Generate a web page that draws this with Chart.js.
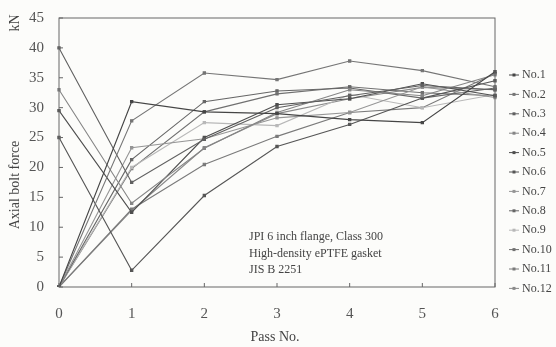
<!DOCTYPE html>
<html>
<head>
<meta charset="utf-8">
<script src="https://cdn.jsdelivr.net/npm/chart.js@4"></script>
<style>
  html, body { margin: 0; padding: 0; background: #fcfcfa; }
  #wrap { width: 556px; height: 347px; }
</style>
</head>
<body>
<div id="wrap"><canvas id="chart"></canvas></div>
<script>
const passes = ['0', '1', '2', '3', '4', '5', '6']
const yTicks = [0, 5, 10, 15, 20, 25, 30, 35, 40, 45]

const no1 = [0, 31, 29.3, 29, 28, 27.5, 36]
const no2 = [0, 27.8, 35.8, 34.7, 37.8, 36.2, 33.5]
const no3 = [40, 17.5, 24.7, 30, 32, 33.7, 33]
const no4 = [33, 14, 23.2, 29.2, 33, 32, 35.5]
const no5 = [29.5, 12.5, 25, 30.5, 31.5, 34, 32]
const no6 = [25, 2.8, 15.3, 23.5, 27.2, 31.6, 34.5]
const no7 = [0, 23.3, 24.8, 28.3, 29.2, 33.5, 31.7]
const no8 = [0, 21.3, 31, 32.8, 33.3, 31.6, 33.3]
const no9 = [0, 20, 27.5, 27, 32.2, 30, 32.2]
const no10 = [0, 19.8, 29.3, 32.3, 33.5, 32.5, 32]
const no11 = [0, 13, 20.5, 25.2, 29.2, 30, 35.7]
const no12 = [0, 12.8, 23.3, 29, 31.5, 33.4, 33]

const series = [no1, no2, no3, no4, no5, no6, no7, no8, no9, no10, no11, no12]
const shades = ['#454545', '#757575', '#606060', '#858585', '#4e4e4e', '#555555',
                '#959595', '#666666', '#b8b8b8', '#707070', '#7a7a7a', '#8a8a8a']

const serif = '"Liberation Serif", "DejaVu Serif", serif'

// legend, axis titles, note, frame and inner ticks
const decor = {
  id: 'decor',
  afterDraw(chart) {
    const { ctx, chartArea, scales } = chart
    ctx.save()
    ctx.strokeStyle = '#666'
    ctx.lineWidth = 1
    ctx.strokeRect(chartArea.left, chartArea.top, chartArea.right - chartArea.left, chartArea.bottom - chartArea.top)

    // small inner ticks
    ctx.beginPath()
    passes.forEach((p, i) => {
      const x = scales.x.getPixelForValue(i)
      ctx.moveTo(x, chartArea.bottom)
      ctx.lineTo(x, chartArea.bottom - 4)
    })
    yTicks.forEach(v => {
      const y = scales.y.getPixelForValue(v)
      ctx.moveTo(chartArea.left, y)
      ctx.lineTo(chartArea.left + 4, y)
    })
    ctx.stroke()

    ctx.fillStyle = '#444'
    ctx.font = '14px ' + serif
    ctx.textAlign = 'center'
    ctx.textBaseline = 'middle'
    ctx.fillText('Pass No.', 275, 337)

    ctx.save()
    ctx.translate(15, 185)
    ctx.rotate(-Math.PI / 2)
    ctx.fillText('Axial bolt force', 0, 0)
    ctx.restore()
    ctx.save()
    ctx.translate(15, 23)
    ctx.rotate(-Math.PI / 2)
    ctx.fillText('kN', 0, 0)
    ctx.restore()

    ctx.font = '12px ' + serif
    ctx.textAlign = 'left'
    ctx.fillText('JPI 6 inch flange, Class 300', 249, 237)
    ctx.fillText('High-density ePTFE gasket', 249, 254)
    ctx.fillText('JIS B 2251', 249, 270)

    // legend
    chart.data.datasets.forEach((ds, i) => {
      const y = 75 + i * 19.4
      ctx.strokeStyle = ds.borderColor
      ctx.fillStyle = ds.borderColor
      ctx.beginPath()
      ctx.moveTo(509, y)
      ctx.lineTo(519, y)
      ctx.stroke()
      ctx.fillRect(512.5, y - 1.5, 3, 3)
      ctx.fillStyle = '#444'
      ctx.font = '12px ' + serif
      ctx.fillText(ds.label, 522, y)
    })
    ctx.restore()
  }
}

const ctx = document.getElementById('chart').getContext('2d')
new Chart(ctx, {
  type: 'line',
  data: {
    labels: passes,
    datasets: series.map((d, i) => ({
      label: 'No.' + (i + 1),
      data: d,
      borderColor: shades[i],
      backgroundColor: shades[i],
      borderWidth: 1.1,
      pointStyle: 'rect',
      pointRadius: 1.6,
      tension: 0
    }))
  },
  options: {
    responsive: true,
    maintainAspectRatio: false,
    animation: false,
    layout: { padding: { top: 18, right: 61, left: 0, bottom: 0 } },
    plugins: { legend: { display: false }, tooltip: { enabled: false } },
    scales: {
      x: {
        type: 'category',
        offset: false,
        grid: { display: false },
        border: { display: false },
        ticks: { color: '#555', padding: 10, font: { family: serif, size: 15 } },
        afterFit: (s) => { s.height = 60 }
      },
      y: {
        min: 0,
        max: 45,
        grid: { display: false },
        border: { display: false },
        ticks: { stepSize: 5, color: '#555', padding: 7, font: { family: serif, size: 15 } },
        afterFit: (s) => { s.width = 59 }
      }
    }
  },
  plugins: [decor]
})
</script>
</body>
</html>
